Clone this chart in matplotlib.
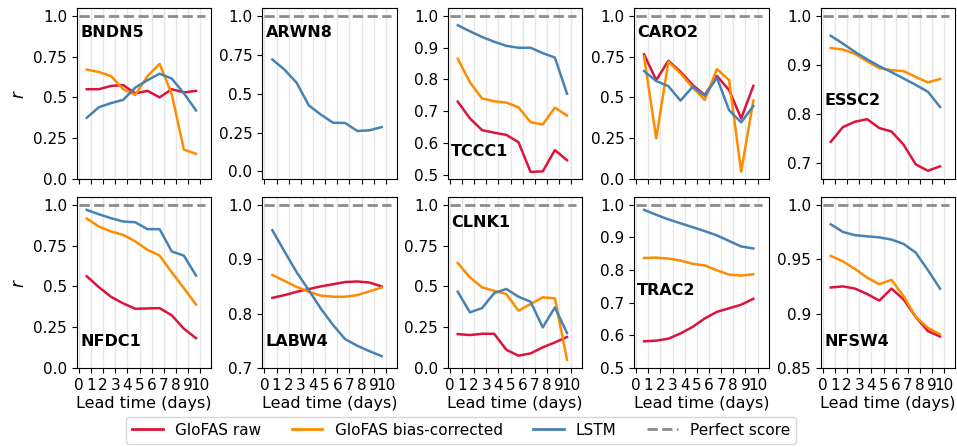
import numpy as np
import matplotlib
matplotlib.use("Agg")
import matplotlib.pyplot as plt
from matplotlib.ticker import FuncFormatter

# ---------------- data ----------------
lead_days = [1, 2, 3, 4, 5, 6, 7, 8, 9, 10]
xtick_labels = ["0", "1", "2", "3", "4", "5", "6", "7", "8", "9", "10"]

stations = ["BNDN5", "ARWN8", "TCCC1", "CARO2", "ESSC2",
            "NFDC1", "LABW4", "CLNK1", "TRAC2", "NFSW4"]

bndn5_raw = [0.55, 0.55, 0.57, 0.575, 0.525, 0.54, 0.50, 0.55, 0.53, 0.54]
bndn5_bc = [0.67, 0.655, 0.63, 0.55, 0.515, 0.63, 0.705, 0.52, 0.18, 0.155]
bndn5_lstm = [0.375, 0.44, 0.465, 0.485, 0.56, 0.605, 0.645, 0.615, 0.525, 0.42]

arwn8_lstm = [0.72, 0.655, 0.57, 0.425, 0.365, 0.313, 0.311, 0.26, 0.264, 0.285]

tccc1_raw = [0.73, 0.677, 0.64, 0.632, 0.625, 0.602, 0.508, 0.51, 0.577, 0.545]
tccc1_bc = [0.865, 0.791, 0.74, 0.731, 0.727, 0.712, 0.665, 0.658, 0.711, 0.686]
tccc1_lstm = [0.971, 0.952, 0.934, 0.919, 0.906, 0.90, 0.90, 0.883, 0.869, 0.755]

caro2_raw = [0.763, 0.606, 0.724, 0.657, 0.576, 0.514, 0.631, 0.545, 0.371, 0.57]
caro2_bc = [0.749, 0.249, 0.718, 0.647, 0.561, 0.484, 0.673, 0.606, 0.045, 0.48]
caro2_lstm = [0.661, 0.60, 0.569, 0.48, 0.565, 0.51, 0.62, 0.422, 0.347, 0.447]

essc2_raw = [0.744, 0.774, 0.785, 0.79, 0.772, 0.765, 0.738, 0.698, 0.685, 0.694]
essc2_bc = [0.935, 0.932, 0.923, 0.908, 0.894, 0.89, 0.888, 0.876, 0.865, 0.872]
essc2_lstm = [0.96, 0.944, 0.927, 0.912, 0.898, 0.886, 0.873, 0.86, 0.846, 0.815]

nfdc1_raw = [0.562, 0.495, 0.436, 0.396, 0.363, 0.365, 0.367, 0.323, 0.241, 0.183]
nfdc1_bc = [0.915, 0.866, 0.836, 0.815, 0.775, 0.724, 0.688, 0.586, 0.489, 0.389]
nfdc1_lstm = [0.968, 0.941, 0.917, 0.897, 0.892, 0.85, 0.85, 0.714, 0.688, 0.566]

labw4_raw = [0.829, 0.834, 0.84, 0.845, 0.85, 0.854, 0.858, 0.859, 0.857, 0.85]
labw4_bc = [0.871, 0.86, 0.849, 0.84, 0.833, 0.831, 0.831, 0.834, 0.841, 0.848]
labw4_lstm = [0.953, 0.914, 0.876, 0.843, 0.809, 0.779, 0.753, 0.741, 0.731, 0.722]

clnk1_raw = [0.208, 0.202, 0.21, 0.21, 0.112, 0.076, 0.09, 0.127, 0.157, 0.19]
clnk1_bc = [0.643, 0.555, 0.494, 0.473, 0.453, 0.351, 0.392, 0.433, 0.427, 0.05]
clnk1_lstm = [0.467, 0.341, 0.367, 0.459, 0.484, 0.437, 0.406, 0.249, 0.371, 0.215]

trac2_raw = [0.582, 0.584, 0.59, 0.606, 0.626, 0.652, 0.672, 0.683, 0.694, 0.712]
trac2_bc = [0.837, 0.838, 0.835, 0.829, 0.819, 0.814, 0.799, 0.786, 0.783, 0.787]
trac2_lstm = [0.984, 0.969, 0.955, 0.943, 0.931, 0.919, 0.906, 0.889, 0.872, 0.866]

nfsw4_raw = [0.924, 0.925, 0.923, 0.918, 0.912, 0.923, 0.913, 0.897, 0.884, 0.879]
nfsw4_bc = [0.953, 0.948, 0.941, 0.933, 0.927, 0.931, 0.916, 0.897, 0.887, 0.881]
nfsw4_lstm = [0.982, 0.975, 0.972, 0.971, 0.970, 0.968, 0.964, 0.956, 0.940, 0.923]

perfect_score = 1.0

yticks_unit = [0.0, 0.25, 0.5, 0.75, 1.0]
yticks_tccc1 = [0.5, 0.6, 0.7, 0.8, 0.9, 1.0]
yticks_essc2 = [0.7, 0.8, 0.9, 1.0]
yticks_labw4 = [0.7, 0.8, 0.9, 1.0]
yticks_trac2 = [0.5, 0.6, 0.7, 0.8, 0.9, 1.0]
yticks_nfsw4 = [0.85, 0.9, 0.95, 1.0]

legend_labels = ["GloFAS raw", "GloFAS bias-corrected", "LSTM", "Perfect score"]

series_raw = [bndn5_raw, None, tccc1_raw, caro2_raw, essc2_raw,
              nfdc1_raw, labw4_raw, clnk1_raw, trac2_raw, nfsw4_raw]
series_bc = [bndn5_bc, None, tccc1_bc, caro2_bc, essc2_bc,
             nfdc1_bc, labw4_bc, clnk1_bc, trac2_bc, nfsw4_bc]
series_lstm = [bndn5_lstm, arwn8_lstm, tccc1_lstm, caro2_lstm, essc2_lstm,
               nfdc1_lstm, labw4_lstm, clnk1_lstm, trac2_lstm, nfsw4_lstm]
yticks_all = [yticks_unit, yticks_unit, yticks_tccc1, yticks_unit, yticks_essc2,
              yticks_unit, yticks_labw4, yticks_unit, yticks_trac2, yticks_nfsw4]

# ---------------- style / layout ----------------
C_RAW = "#dc143c"
C_BC = "#ff8c00"
C_LSTM = "#4682b4"
C_PERF = "#8c8c8c"

ylims = [(0.0, 1.045), (-0.05, 1.05), (0.4855, 1.0245), (0.0, 1.045), (0.668, 1.016),
         (0.0, 1.045), (0.70, 1.0135), (0.0, 1.045), (0.5, 1.0225), (0.85, 1.0068)]
label_y = [0.86, 0.86, 0.16, 0.86, 0.46, 0.155, 0.155, 0.855, 0.457, 0.155]

x_offset = -0.35
W, H = 957, 447
fig = plt.figure(figsize=(W / 100, H / 100), dpi=100)

lefts_px = [76.7, 262.3, 447.7, 634.0, 820.7]
width_px = 134.5
row_top_px = [8.3, 197.3]
height_px = 170.8


def fmt(v, pos):
    s = f"{v:g}"
    if "." not in s:
        s += ".0"
    return s


x = np.array(lead_days) + x_offset
for i, name in enumerate(stations):
    r, c = divmod(i, 5)
    left = lefts_px[c] / W
    bottom = (H - row_top_px[r] - height_px) / H
    ax = fig.add_axes([left, bottom, width_px / W, height_px / H])
    ax.set_xlim(-0.18, 10.9)
    ax.set_ylim(*ylims[i])
    ax.set_xticks(np.arange(len(xtick_labels)))
    ax.grid(axis="x", color="#e6e6e6", linewidth=1.0, zorder=0)
    ax.set_axisbelow(True)

    ax.plot([0, 10.4], [perfect_score, perfect_score], color=C_PERF,
            linestyle="--", linewidth=2.0, zorder=2)
    if series_raw[i] is not None:
        ax.plot(x, series_raw[i], color=C_RAW, linewidth=1.8, zorder=3)
    if series_bc[i] is not None:
        ax.plot(x, series_bc[i], color=C_BC, linewidth=1.8, zorder=3)
    ax.plot(x, series_lstm[i], color=C_LSTM, linewidth=1.8, zorder=4)

    ax.set_yticks(yticks_all[i])
    ax.yaxis.set_major_formatter(FuncFormatter(fmt))
    ax.tick_params(labelsize=11)
    if r == 1:
        ax.set_xticklabels(xtick_labels)
        ax.set_xlabel("Lead time (days)", fontsize=11.5, labelpad=2)
    else:
        ax.set_xticklabels([])
    if c == 0:
        ax.set_ylabel("$r$", fontsize=12, labelpad=4)

    ax.text(0.025, label_y[i], name, transform=ax.transAxes, fontsize=11.5,
            fontweight="bold", va="center", ha="left", zorder=5)

handles = [
    plt.Line2D([], [], color=C_RAW, linewidth=2),
    plt.Line2D([], [], color=C_BC, linewidth=2),
    plt.Line2D([], [], color=C_LSTM, linewidth=2),
    plt.Line2D([], [], color=C_PERF, linewidth=2, linestyle="--"),
]
fig.legend(handles, legend_labels,
           loc="upper center", bbox_to_anchor=(0.482, 0.085), ncol=4,
           fontsize=11, frameon=True, columnspacing=2.0)

fig.savefig("out.png", dpi=100)
